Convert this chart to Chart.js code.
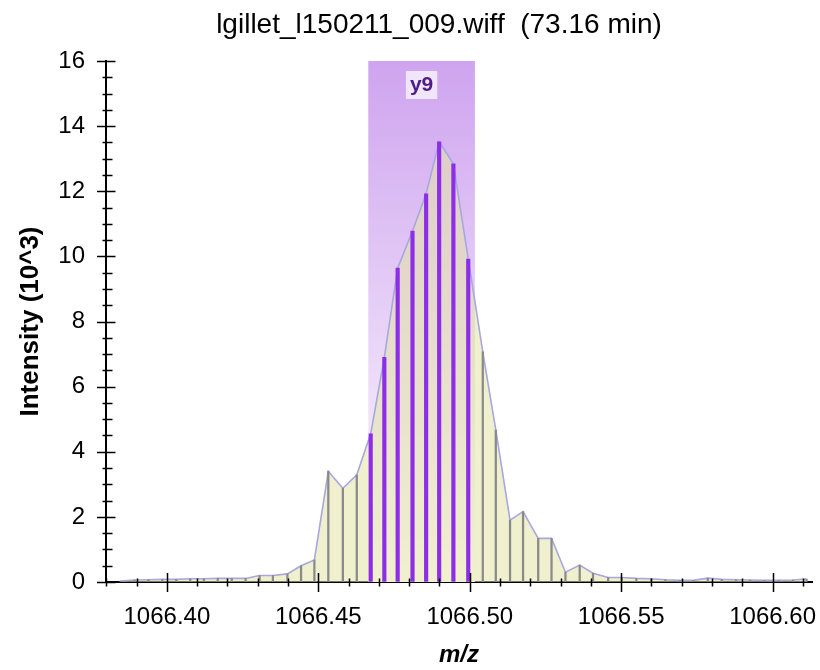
<!DOCTYPE html>
<html>
<head>
<meta charset="utf-8">
<title>lgillet_l150211_009.wiff (73.16 min)</title>
<script src="https://cdn.jsdelivr.net/npm/chart.js@4.4.1/dist/chart.umd.min.js"></script>
<style>
  html, body { margin: 0; padding: 0; background: #fff; overflow: hidden; }
  #wrap { position: relative; width: 820px; height: 670px; }
  #title {
    position: absolute; top: 8px; left: 439px; transform: translateX(-50%);
    white-space: nowrap; color: #000; line-height: 32px;
    font: 28px "Liberation Sans", Arial, sans-serif;
  }
</style>
</head>
<body>
<div id="wrap">
  <canvas id="chart" width="820" height="670"></canvas>
  <div id="title">lgillet_l150211_009.wiff&nbsp; (73.16 min)</div>
</div>
<script>
// ── 数据 ──

// m/z of each profile point
const mzValues = [
  1066.3847, 1066.3893, 1066.3939, 1066.3985, 1066.4031, 1066.4077, 1066.4122, 1066.4168, 1066.4214, 1066.4260,
  1066.4306, 1066.4350, 1066.4398, 1066.4443, 1066.4487, 1066.4533, 1066.4581, 1066.4627, 1066.4673, 1066.4718,
  1066.4762, 1066.4811, 1066.4856, 1066.4899, 1066.4946, 1066.4995, 1066.5043, 1066.5086, 1066.5133, 1066.5176,
  1066.5226, 1066.5270, 1066.5316, 1066.5363, 1066.5407, 1066.5457, 1066.5502, 1066.5550, 1066.5599, 1066.5646,
  1066.5693, 1066.5739, 1066.5786, 1066.5832, 1066.5879, 1066.5926, 1066.5973, 1066.6020, 1066.6067, 1066.6112,
];

// intensity (10^3) at each point
const intensities = [
  0.03, 0.06, 0.07, 0.08, 0.08, 0.10, 0.10, 0.11, 0.11, 0.11,
  0.20, 0.20, 0.25, 0.50, 0.68, 3.40, 2.88, 3.29, 4.55, 6.90,
  9.64, 10.78, 11.92, 13.52, 12.84, 9.92, 7.07, 4.67, 1.90, 2.16,
  1.34, 1.34, 0.30, 0.52, 0.27, 0.14, 0.14, 0.11, 0.10, 0.07,
  0.05, 0.05, 0.12, 0.08, 0.07, 0.06, 0.05, 0.05, 0.06, 0.09,
];

// y9 extraction window
const y9Window = [1066.4665, 1066.5017];
const y9Label = 'y9';

const xTickValues = [1066.40, 1066.45, 1066.50, 1066.55, 1066.60];
const yTickValues = [0, 2, 4, 6, 8, 10, 12, 14, 16];

const X_MIN = 1066.3799;
const X_MAX = 1066.6130;
const X_MINOR = 0.01;
const Y_MINOR = 0.5;

const COLORS = {
  area: 'rgba(228, 228, 166, 0.55)',
  areaLine: '#A7A7E2',
  stick: '#8A8A8A',
  stickIon: '#8E2DE8',
  windowTop: '#CFA4EF',
  labelBg: '#F0E5FA',
  labelText: '#4E1C86',
};

const FONT = '"Liberation Sans", Arial, sans-serif';

const points = mzValues.map((mz, i) => ({ x: mz, y: intensities[i] }));
const inWindow = p => p.x >= y9Window[0] && p.x <= y9Window[1];

// ── 高亮窗口 + 标签 ──

const ionWindow = {
  id: 'ionWindow',
  beforeDatasetsDraw(chart) {
    const { ctx, chartArea: a, scales: { x } } = chart;
    const x0 = x.getPixelForValue(y9Window[0]);
    const x1 = x.getPixelForValue(y9Window[1]);
    const g = ctx.createLinearGradient(0, a.top, 0, a.bottom);
    g.addColorStop(0, COLORS.windowTop);
    g.addColorStop(1, '#FFFFFF');
    ctx.save();
    ctx.fillStyle = g;
    ctx.fillRect(x0, a.top, x1 - x0, a.bottom - a.top);
    ctx.restore();
  },
  afterDatasetsDraw(chart) {
    const { ctx, chartArea: a, scales: { x } } = chart;
    const cx = x.getPixelForValue((y9Window[0] + y9Window[1]) / 2);
    ctx.save();
    ctx.font = 'bold 21px ' + FONT;
    const w = ctx.measureText(y9Label).width + 8;
    ctx.fillStyle = COLORS.labelBg;
    ctx.fillRect(cx - w / 2, a.top + 10, w, 28);
    ctx.fillStyle = COLORS.labelText;
    ctx.textAlign = 'center';
    ctx.textBaseline = 'middle';
    ctx.fillText(y9Label, cx, a.top + 24);
    ctx.restore();
  },
};

// ── 刻度线（穿过坐标轴，含次刻度） ──

const crossTicks = {
  id: 'crossTicks',
  afterDraw(chart) {
    const { ctx, chartArea: a, scales: { x, y } } = chart;
    ctx.save();
    ctx.strokeStyle = '#000';
    ctx.lineWidth = 1.5;
    ctx.beginPath();
    const k0 = Math.ceil(x.min / X_MINOR - 1e-6);
    const k1 = Math.floor(x.max / X_MINOR + 1e-6);
    for (let k = k0; k <= k1; k++) {
      const px = Math.round(x.getPixelForValue(k * X_MINOR)) + 0.5;
      const major = k % 5 === 0;
      ctx.moveTo(px, a.bottom - (major ? 9 : 3.5));
      ctx.lineTo(px, a.bottom + (major ? 10 : 4.5));
    }
    const n = Math.round((y.max - y.min) / Y_MINOR);
    for (let k = 0; k <= n; k++) {
      const py = Math.round(y.getPixelForValue(y.min + k * Y_MINOR)) + 0.5;
      const major = k % 4 === 0;
      ctx.moveTo(a.left - (major ? 9 : 3.5), py);
      ctx.lineTo(a.left + (major ? 9.5 : 6.5), py);
    }
    ctx.stroke();
    ctx.restore();
  },
};

new Chart(document.getElementById('chart'), {
  type: 'bar',
  data: {
    datasets: [
      {
        type: 'line',
        label: 'profile',
        data: points,
        borderColor: COLORS.areaLine,
        borderWidth: 1.6,
        backgroundColor: COLORS.area,
        fill: 'origin',
        tension: 0,
        pointRadius: 0,
        order: 3,
      },
      {
        label: 'sticks',
        data: points.filter(p => !inWindow(p)),
        backgroundColor: COLORS.stick,
        barThickness: 1.6,
        grouped: false,
        order: 2,
      },
      {
        label: y9Label,
        data: points.filter(inWindow),
        backgroundColor: COLORS.stickIon,
        barThickness: 3.5,
        grouped: false,
        order: 1,
      },
    ],
  },
  options: {
    responsive: false,
    animation: false,
    layout: { padding: { top: 61, right: 8, left: 6, bottom: 0 } },
    plugins: {
      legend: { display: false },
      tooltip: { enabled: false },
      title: { display: false },
    },
    scales: {
      x: {
        type: 'linear',
        min: X_MIN,
        max: X_MAX,
        offset: false,
        afterFit: s => { s.height = 88; },
        afterBuildTicks: s => { s.ticks = xTickValues.map(v => ({ value: v })); },
        // invisible tick marks just push the labels down; real ticks come from crossTicks
        grid: { drawOnChartArea: false, drawTicks: true, tickLength: 21, tickColor: 'rgba(0,0,0,0)' },
        border: { display: true, color: '#000', width: 2 },
        ticks: {
          autoSkip: false,
          maxRotation: 0,
          padding: 0,
          color: '#000',
          font: { family: FONT, size: 24 },
          callback: v => v.toFixed(2),
        },
        title: {
          display: true,
          text: 'm/z',
          color: '#000',
          padding: { top: 0, bottom: 0 },
          font: { family: FONT, size: 24, weight: 'bold', style: 'italic' },
        },
      },
      y: {
        min: 0,
        max: 16,
        afterFit: s => { s.width = 100; },
        afterBuildTicks: s => { s.ticks = yTickValues.map(v => ({ value: v })); },
        grid: { drawOnChartArea: false, drawTicks: false },
        border: { display: true, color: '#000', width: 2 },
        ticks: {
          padding: 21,
          color: '#000',
          font: { family: FONT, size: 24 },
        },
        title: {
          display: true,
          text: 'Intensity (10^3)',
          color: '#000',
          padding: { top: 9, bottom: 0 },
          font: { family: FONT, size: 26, weight: 'bold' },
        },
      },
    },
  },
  plugins: [ionWindow, crossTicks],
});
</script>
</body>
</html>
